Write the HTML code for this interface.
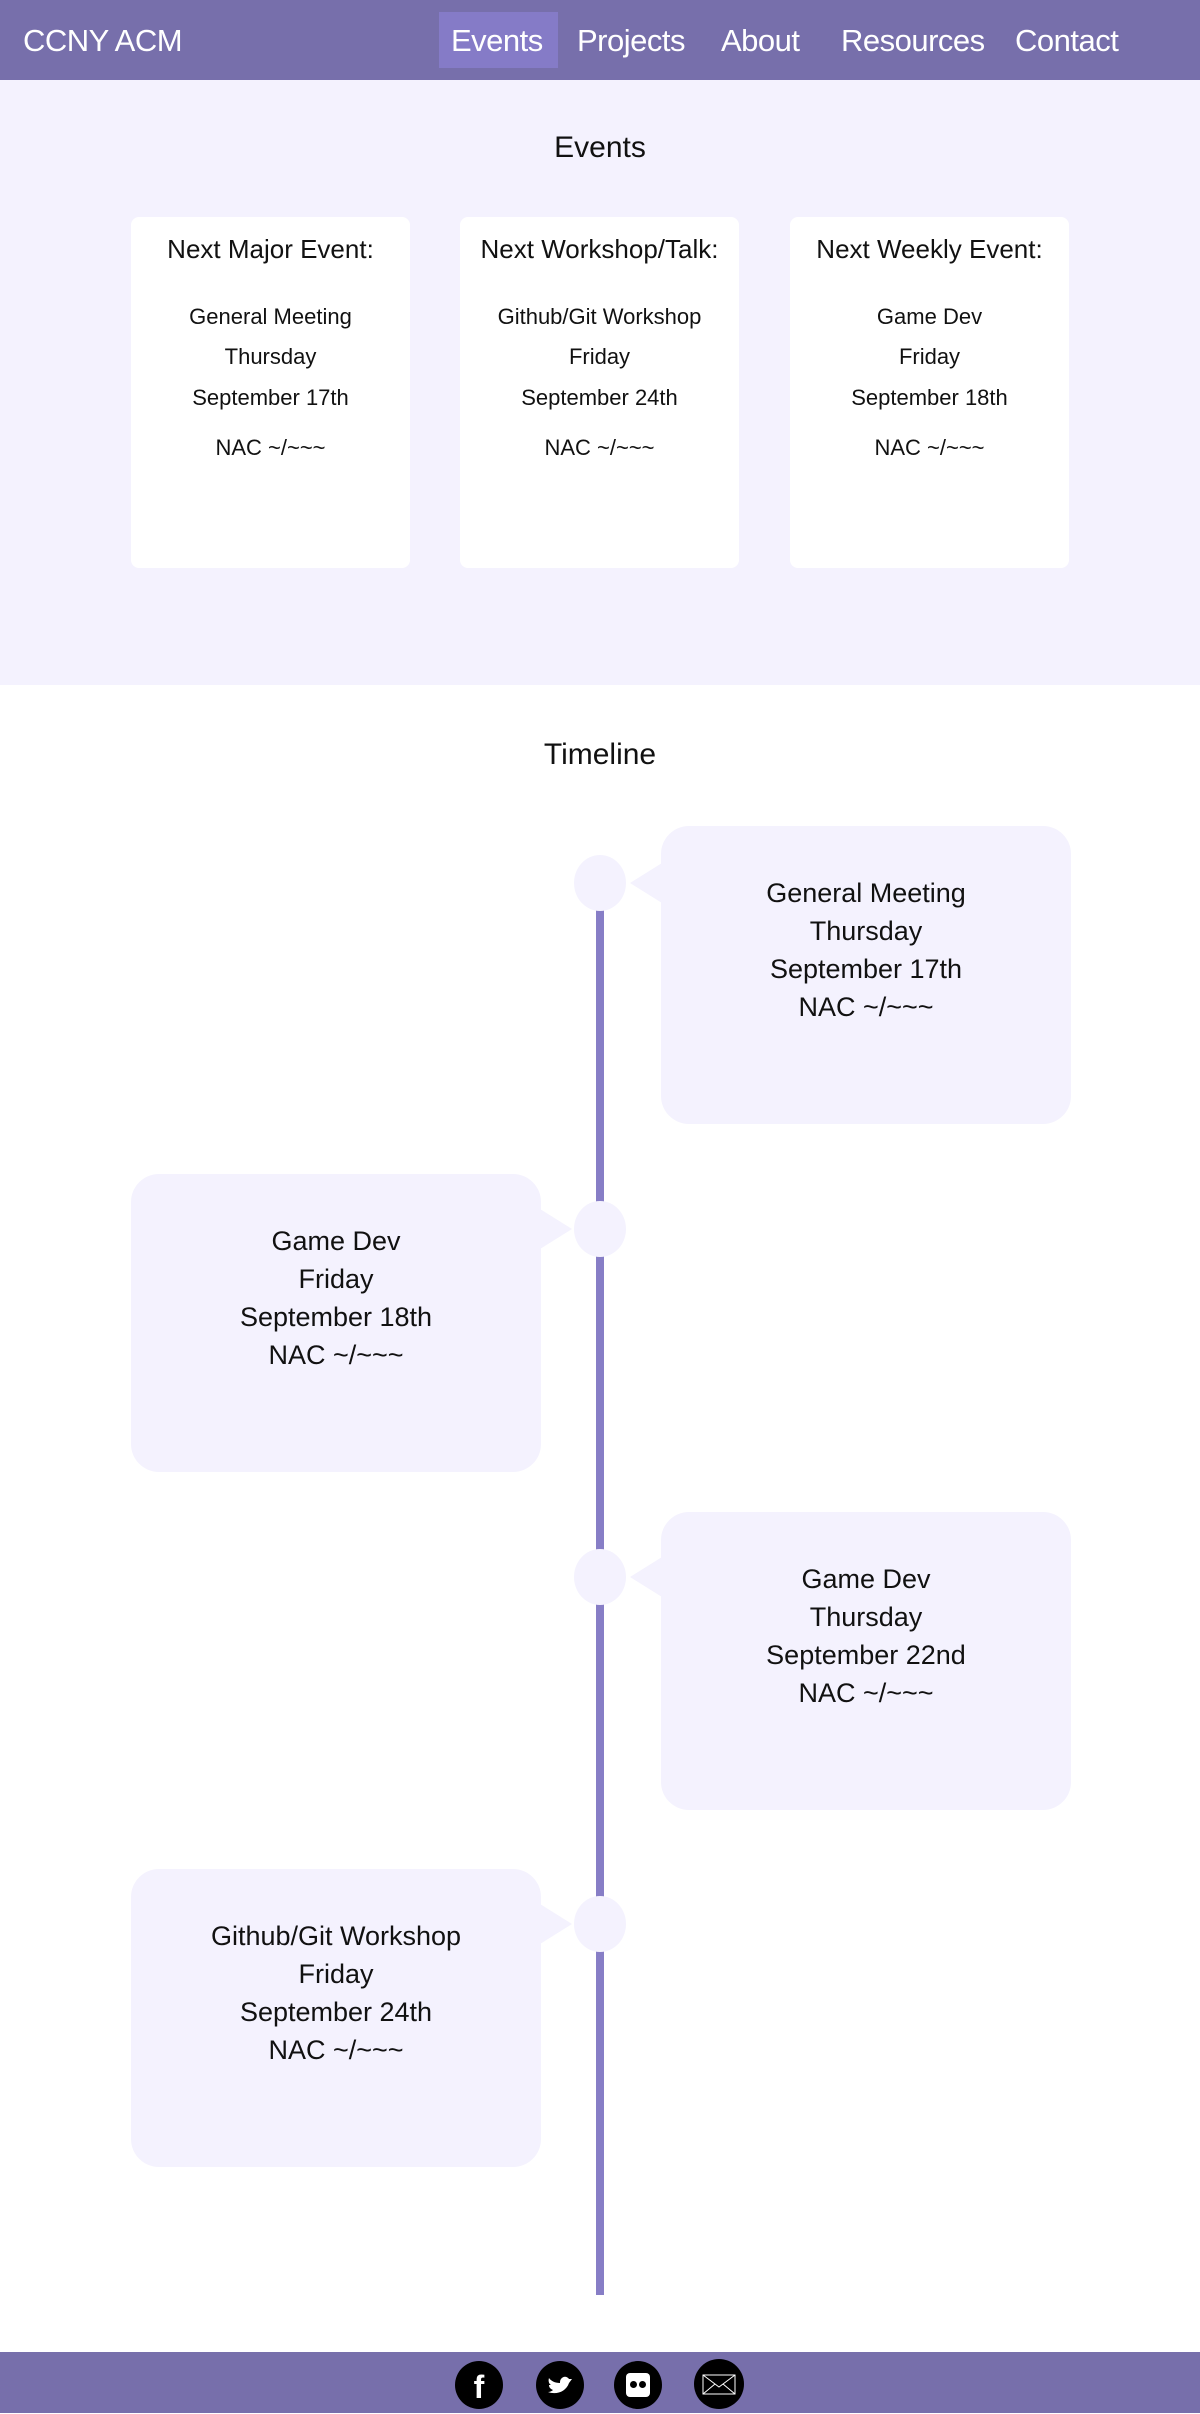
<!DOCTYPE html>
<html><head><meta charset="utf-8"><style>
*{margin:0;padding:0;box-sizing:border-box}
body{width:1200px;height:2413px;position:relative;font-family:"Liberation Sans",sans-serif;background:#fff;overflow:hidden;color:#111}
.abs{position:absolute}
nav{position:absolute;left:0;top:0;width:1200px;height:80px;background:#776fab;color:#fff;font-size:31px}
nav span{position:absolute;top:23px;letter-spacing:-0.5px}
.hl{position:absolute;left:439px;top:12px;width:119px;height:56px;background:#857bc7}
.events{position:absolute;left:0;top:80px;width:1200px;height:605px;background:#f4f2fe}
.card{position:absolute;top:217px;width:279px;height:351px;background:#fff;border-radius:8px;text-align:center}
.card h3{font-weight:normal;font-size:26px;position:absolute;top:17px;width:100%}
.card p{position:absolute;width:100%;font-size:22px}
.bub{position:absolute;width:410px;height:298px;background:#f4f2fe;border-radius:28px;text-align:center;font-size:27px;line-height:38px;padding-top:48px}
.dot{position:absolute;left:574px;width:52px;height:56px;border-radius:50%;background:#f4f2fe}
.triR{position:absolute;width:0;height:0;border-top:20px solid transparent;border-bottom:20px solid transparent;border-right:32px solid #f4f2fe}
.triL{position:absolute;width:0;height:0;border-top:20px solid transparent;border-bottom:20px solid transparent;border-left:32px solid #f4f2fe}
.ic{position:absolute;top:2361px;width:48px;height:48px;border-radius:50%;background:#000;color:#fff;text-align:center}
</style></head><body>
<nav><div class="hl"></div>
<span style="left:23px">CCNY ACM</span>
<span style="left:451px">Events</span>
<span style="left:577px">Projects</span>
<span style="left:721px">About</span>
<span style="left:841px">Resources</span>
<span style="left:1015px">Contact</span>
</nav>
<div class="events"></div>
<div class="abs" style="top:131px;width:1200px;text-align:center;font-size:30px">Events</div>
<div class="card" style="left:131px"><h3>Next Major Event:</h3><p style="top:87px">General Meeting</p><p style="top:127px">Thursday</p><p style="top:168px">September 17th</p><p style="top:218px">NAC ~/~~~</p></div>
<div class="card" style="left:460px"><h3>Next Workshop/Talk:</h3><p style="top:87px">Github/Git Workshop</p><p style="top:127px">Friday</p><p style="top:168px">September 24th</p><p style="top:218px">NAC ~/~~~</p></div>
<div class="card" style="left:790px"><h3>Next Weekly Event:</h3><p style="top:87px">Game Dev</p><p style="top:127px">Friday</p><p style="top:168px">September 18th</p><p style="top:218px">NAC ~/~~~</p></div>
<div class="abs" style="top:738px;width:1200px;text-align:center;font-size:30px">Timeline</div>
<div class="abs" style="left:596px;top:900px;width:8px;height:1395px;background:#877ec6"></div>

<div class="dot" style="top:855px"></div><div class="triR" style="left:630px;top:863px"></div>
<div class="bub" style="left:661px;top:826px">General Meeting<br>Thursday<br>September 17th<br>NAC ~/~~~</div>

<div class="dot" style="top:1201px"></div><div class="triL" style="left:540px;top:1209px"></div>
<div class="bub" style="left:131px;top:1174px">Game Dev<br>Friday<br>September 18th<br>NAC ~/~~~</div>

<div class="dot" style="top:1549px"></div><div class="triR" style="left:630px;top:1557px"></div>
<div class="bub" style="left:661px;top:1512px">Game Dev<br>Thursday<br>September 22nd<br>NAC ~/~~~</div>

<div class="dot" style="top:1896px"></div><div class="triL" style="left:540px;top:1904px"></div>
<div class="bub" style="left:131px;top:1869px">Github/Git Workshop<br>Friday<br>September 24th<br>NAC ~/~~~</div>

<div class="abs" style="left:0;top:2352px;width:1200px;height:61px;background:#776fab"></div>
<div class="ic" style="left:455px;font:bold 32px 'Liberation Sans',sans-serif;line-height:52px">f</div>
<div class="ic" style="left:536px"><svg width="48" height="48"><path d="M12 31 C20 34 30 31 33 22 L36 18 L33 18 C31 15 27 15 25 18 C24 19 24 21 24 22 C19 22 15 20 13 17 C12 20 13 23 15 24 L13 24 C13 27 15 28 17 29 C16 30 14 31 12 31 Z" fill="#fff"/></svg></div>
<div class="ic" style="left:614px"><div style="position:absolute;left:12px;top:12px;width:24px;height:24px;background:#fff;border-radius:4px"><div style="position:absolute;left:4px;top:8px;width:7px;height:7px;border-radius:50%;background:#000"></div><div style="position:absolute;left:13px;top:8px;width:7px;height:7px;border-radius:50%;background:#000"></div></div></div>
<div class="ic" style="left:694px;width:50px;height:50px;top:2359px"><svg width="50" height="50"><rect x="9" y="16" width="32" height="19" fill="none" stroke="#fff" stroke-width="1"/><path d="M9 16 L25 28 L41 16 M9 35 L21 25 M41 35 L29 25" fill="none" stroke="#fff" stroke-width="1"/></svg></div>
</body></html>
